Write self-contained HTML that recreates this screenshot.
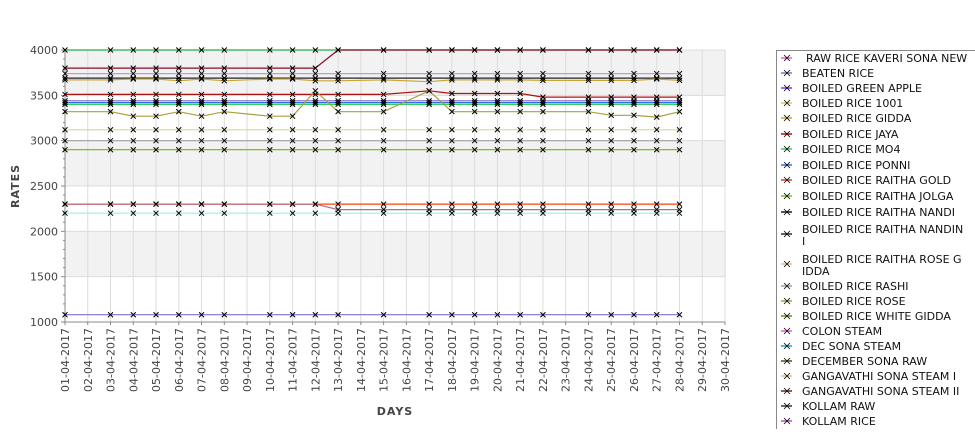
<!DOCTYPE html>
<html><head><meta charset="utf-8"><style>
body{margin:0;background:#fff;font-family:"Liberation Sans","DejaVu Sans",sans-serif}
svg text{font-family:"DejaVu Sans","Liberation Sans",sans-serif}
</style></head><body>
<svg id="chart" width="975" height="429" viewBox="0 0 975 429" xmlns="http://www.w3.org/2000/svg">
<g id="plot"></g>
<g id="legend"></g>
</svg>
<script>
const dateLabels=[];for(let d=1;d<=30;d++)dateLabels.push((d<10?'0':'')+d+'-04-2017');
const yTicks=[1000,1500,2000,2500,3000,3500,4000];
const days=[1,3,4,5,6,7,8,10,11,12,13,15,17,18,19,20,21,22,24,25,26,27,28];
const sMO4=[4000,4000,4000,4000,4000,4000,4000,4000,4000,4000,4000,4000,4000,4000,4000,4000,4000,4000,4000,4000,4000,4000,4000];
const sJaya=[3800,3800,3800,3800,3800,3800,3800,3800,3800,3800,4000,4000,4000,4000,4000,4000,4000,4000,4000,4000,4000,4000,4000];
const sLav=[3740,3740,3740,3740,3740,3740,3740,3740,3740,3740,3740,3740,3740,3740,3740,3740,3740,3740,3740,3740,3740,3740,3740];
const sBlack=[3690,3690,3690,3690,3690,3690,3690,3690,3690,3690,3690,3690,3690,3690,3690,3690,3690,3690,3690,3690,3690,3690,3690];
const sYellow=[3670,3670,3680,3680,3660,3680,3660,3680,3680,3660,3660,3670,3650,3670,3670,3670,3670,3665,3665,3665,3665,3680,3665];
const sRed=[3510,3510,3510,3510,3510,3510,3510,3510,3510,3510,3510,3510,3550,3520,3520,3520,3520,3480,3480,3480,3480,3480,3480];
const sPurple=[3440,3440,3440,3440,3440,3440,3440,3440,3440,3440,3440,3440,3440,3440,3440,3440,3440,3440,3440,3440,3440,3440,3440];
const sBlue=[3420,3420,3420,3420,3420,3420,3420,3420,3420,3420,3420,3420,3420,3420,3420,3420,3420,3420,3420,3420,3420,3420,3420];
const sGreen2=[3400,3400,3400,3400,3400,3400,3400,3400,3400,3400,3400,3400,3400,3400,3400,3400,3400,3400,3400,3400,3400,3400,3400];
const sOlive=[3320,3320,3270,3270,3320,3270,3320,3270,3270,3550,3320,3320,3550,3320,3320,3320,3320,3320,3320,3280,3280,3260,3320];
const sLightY=[3120,3120,3120,3120,3120,3120,3120,3120,3120,3120,3120,3120,3120,3120,3120,3120,3120,3120,3120,3120,3120,3120,3120];
const sGrey=[3000,3000,3000,3000,3000,3000,3000,3000,3000,3000,3000,3000,3000,3000,3000,3000,3000,3000,3000,3000,3000,3000,3000];
const sYG=[2900,2900,2900,2900,2900,2900,2900,2900,2900,2900,2900,2900,2900,2900,2900,2900,2900,2900,2900,2900,2900,2900,2900];
const sOrange=[2300,2300,2300,2300,2300,2300,2300,2300,2300,2300,2300,2300,2300,2300,2300,2300,2300,2300,2300,2300,2300,2300,2300];
const sMauve=[2300,2300,2300,2300,2300,2300,2300,2300,2300,2300,2240,2240,2240,2240,2240,2240,2240,2240,2240,2240,2240,2240,2240];
const sCyan=[2200,2200,2200,2200,2200,2200,2200,2200,2200,2200,2200,2200,2200,2200,2200,2200,2200,2200,2200,2200,2200,2200,2200];
const sLow=[1080,1080,1080,1080,1080,1080,1080,1080,1080,1080,1080,1080,1080,1080,1080,1080,1080,1080,1080,1080,1080,1080,1080];
const seriesList=[
 ['mo4',sMO4,'#22b14c'],['jaya',sJaya,'#8b0a2a'],['lavender',sLav,'#b4a0d8'],['nandi',sBlack,'#222222'],
 ['gidda',sYellow,'#c8a832'],['raitha-gold',sRed,'#b01010'],['beaten',sPurple,'#8060d0'],['ponni',sBlue,'#3070e0'],
 ['green',sGreen2,'#30d060'],['rose',sOlive,'#a8a040'],['rice-1001',sLightY,'#d8d890'],['rashi',sGrey,'#a0a0a0'],
 ['jolga',sYG,'#70b800'],['orange',sOrange,'#ff4000'],['colon',sMauve,'#b07080'],['dec',sCyan,'#90f0f8'],['low',sLow,'#8070d0']];
const legendNames=['RAW RICE KAVERI SONA NEW','BEATEN RICE','BOILED GREEN APPLE','BOILED RICE 1001','BOILED RICE GIDDA','BOILED RICE JAYA','BOILED RICE MO4','BOILED RICE PONNI','BOILED RICE RAITHA GOLD','BOILED RICE RAITHA JOLGA','BOILED RICE RAITHA NANDI','BOILED RICE RAITHA NANDIN|I','BOILED RICE RAITHA ROSE G|IDDA','BOILED RICE RASHI','BOILED RICE ROSE','BOILED RICE WHITE GIDDA','COLON STEAM','DEC SONA STEAM','DECEMBER SONA RAW','GANGAVATHI SONA STEAM I','GANGAVATHI SONA STEAM II','KOLLAM RAW','KOLLAM RICE'];
const legendColors=['#e060d0','#8070d0','#9030f0','#d8c860','#c8a832','#b01010','#30d060','#3070e0','#e04020','#70c030','#301030','#203040','#e0c090','#a0a0a0','#a8a040','#609010','#e060d0','#20a0d0','#406010','#e0c090','#603020','#204030','#c050b0'];
const legendY=[58,73,88,103,118,134,149,165,180,196,212,234,264,286,301,316,331,346,361,376,391,406,421];

const NS='http://www.w3.org/2000/svg';
const X0=65,X1=725,Y0=50,Y1=322;
const xs=d=>X0+(d-1)*(X1-X0)/29;
const ys=v=>Y0+(4000-v)*(Y1-Y0)/3000;
function mk(tag,attrs,parent){const e=document.createElementNS(NS,tag);for(const k in attrs)e.setAttribute(k,attrs[k]);parent.appendChild(e);return e;}
const plot=document.getElementById('plot');
for(let i=0;i<6;i++){
 const v=4000-i*500;
 const r=mk('rect',{x:X0,y:ys(v),width:X1-X0+1,height:ys(v-500)-ys(v),fill:i%2==0?'#f2f2f2':'#ffffff'},plot);
 
 
}
for(let d=1;d<=30;d++){const l=mk('line',{x1:xs(d),x2:xs(d),y1:Y0,y2:Y1,stroke:'#dcdcdc','stroke-width':1},plot);
 
 }
yTicks.forEach(v=>{const l=mk('line',{x1:X0,x2:X1,y1:ys(v),y2:ys(v),stroke:'#dcdcdc','stroke-width':1},plot);
 
 
 const t=mk('text',{x:58,y:ys(v)+4,'text-anchor':'end','font-size':11,fill:'#444'},plot);t.textContent=v;
 
 
 mk('line',{x1:X0-4,x2:X0,y1:ys(v),y2:ys(v),stroke:'#888'},plot);
});
for(let v=1100;v<4000;v+=100){if(v%500)mk('line',{x1:X0-2,x2:X0,y1:ys(v),y2:ys(v),stroke:'#888'},plot);}
mk('line',{x1:X0,x2:X0,y1:Y0,y2:Y1,stroke:'#888'},plot);
mk('line',{x1:X0,x2:X1,y1:Y1,y2:Y1,stroke:'#888'},plot);
dateLabels.forEach((s,i)=>{const x=xs(i+1);
 mk('line',{x1:x,x2:x,y1:Y1,y2:Y1+3,stroke:'#888'},plot);
 const t=mk('text',{x:0,y:0,'text-anchor':'end','font-size':11,fill:'#444',transform:`translate(${x+4},${Y1+6}) rotate(-90)`},plot);t.textContent=s;
 
 
});
seriesList.forEach(([nm,vals,col])=>{
 const pts=vals.map((v,i)=>xs(days[i]).toFixed(1)+','+ys(v).toFixed(1)).join(' ');
 const p=mk('polyline',{points:pts,fill:'none',stroke:col,'stroke-width':1.2},plot);
 
 
});
seriesList.forEach(([nm,vals,col])=>{
 vals.forEach((v,i)=>{const x=xs(days[i]),y=ys(v);
  const m=mk('path',{d:`M${x-2.5},${y-2.5}L${x+2.5},${y+2.5}M${x-2.5},${y+2.5}L${x+2.5},${y-2.5}`,stroke:'#000','stroke-width':1},plot);
  
  
 });
});
const yt=mk('text',{x:0,y:0,'text-anchor':'middle','font-size':11,'font-weight':'bold',fill:'#444',transform:'translate(19,186) rotate(-90)','letter-spacing':1},plot);yt.textContent='RATES';


const xt=mk('text',{x:395,y:415,'text-anchor':'middle','font-size':11,'font-weight':'bold',fill:'#444','letter-spacing':1},plot);xt.textContent='DAYS';


const lg=document.getElementById('legend');
const box=mk('rect',{x:776.5,y:50.5,width:210,height:390,fill:'#fff',stroke:'#888'},lg);


legendNames.forEach((n,i)=>{
 const y=legendY[i],g=mk('g',{},lg);
 
 
 const c=legendColors[i];
 mk('line',{x1:781,x2:792,y1:y,y2:y,stroke:c,'stroke-width':1.5},g);
 mk('path',{d:`M${784},${y-3}L${790},${y+3}M${784},${y+3}L${790},${y-3}`,stroke:'#000','stroke-width':0.8},g);
 const parts=n.split('|');
 parts.forEach((p,k)=>{
  const ty=parts.length>1?(y-1+k*12):(y+4);
  const t=mk('text',{x:i==0?806:802,y:ty,'font-size':11,fill:'#111'},g);t.textContent=p;
 });
});
</script>
</body></html>
